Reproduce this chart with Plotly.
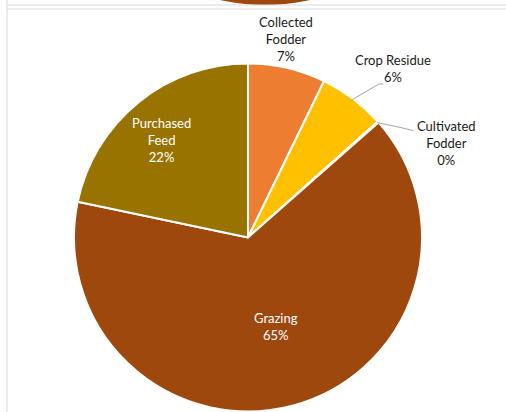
import math
import plotly.graph_objects as go

# ---- data ----
categories = ["Collected Fodder", "Crop Residue", "Cultivated Fodder", "Grazing", "Purchased Feed"]
label_lines = ["Collected<br>Fodder", "Crop Residue", "Cultivated<br>Fodder", "Grazing", "Purchased<br>Feed"]
values = [7.2, 6.2, 0.1, 64.8, 21.7]
colors = ["#ED7D31", "#FFC000", "#A5A5A5", "#9E480E", "#997300"]

# ---- label styling (angle offset in degrees, radius factor, inside?) ----
label_style = [
    dict(dang=-2, rf=1.17, inside=False, leader=False),
    dict(dang=3.5, rf=1.29, inside=False, leader=True),
    dict(dang=16, rf=1.27, inside=False, leader=True),
    dict(dang=-2.5, rf=0.54, inside=True, leader=False),
    dict(dang=-2.5, rf=0.75, inside=True, leader=False),
]

W, H = 506, 412
cx, cy, r = 248, 237.5, 174  # pie centre/radius in pixels

fig = go.Figure(go.Pie(
    labels=categories,
    values=values,
    sort=False,
    direction="clockwise",
    rotation=0,
    marker=dict(colors=colors, line=dict(color="white", width=2)),
    textinfo="none",
    hoverinfo="label+percent",
    domain=dict(x=[(cx - r) / W, (cx + r) / W], y=[1 - (cy + r) / H, 1 - (cy - r) / H]),
    showlegend=False,
))


def px(x):
    return x / W


def py(y):
    return 1 - y / H


total = sum(values)
annotations = []
shapes = []
cum = 0.0
rr = 173
for name, txt, v, st in zip(categories, label_lines, values, label_style):
    mid = (cum + v / 2) / total * 360
    cum += v
    pct = round(v / total * 100)
    a = math.radians(mid + st["dang"])
    lx = cx + st["rf"] * rr * math.sin(a)
    ly = cy - st["rf"] * rr * math.cos(a)
    if st["inside"]:
        font = dict(family="Lato", size=13, color="white")
    else:
        font = dict(family="Lato", size=13, color="#1a1a1a")
    annotations.append(dict(
        x=px(lx), y=py(ly), xref="paper", yref="paper",
        text=f"{txt}<br>{pct}%", showarrow=False, align="center",
        xanchor="center", yanchor="middle", font=font,
    ))
    if st["leader"]:
        am = math.radians(mid)
        ex = cx + rr * 1.0 * math.sin(am)
        ey = cy - rr * 1.0 * math.cos(am)
        if name == "Crop Residue":
            tx, ty = lx - 14, ly + 16
            path = f"M {px(ex)} {py(ey)} L {px(tx)} {py(ty)} L {px(tx + 4)} {py(ty)}"
        else:
            tx, ty = lx - 33, ly - 12
            path = f"M {px(ex)} {py(ey)} L {px(tx - 12)} {py(ty - 3)} L {px(tx)} {py(ty)}"
        shapes.append(dict(type="path", xref="paper", yref="paper", path=path,
                           line=dict(color="#A6A6A6", width=1)))

grey = "#D9D9D9"
shapes += [
    # fragment of the chart above
    dict(type="circle", xref="paper", yref="paper",
         x0=px(265 - 205), x1=px(265 + 205), y0=py(5), y1=py(-405),
         fillcolor="#9E480E", line=dict(width=0), layer="below"),
    dict(type="line", xref="paper", yref="paper", x0=px(7), x1=1, y0=py(5), y1=py(5),
         line=dict(color=grey, width=1)),
    dict(type="line", xref="paper", yref="paper", x0=px(7), x1=1, y0=py(9), y1=py(9),
         line=dict(color=grey, width=1)),
    dict(type="line", xref="paper", yref="paper", x0=px(7), x1=px(7), y0=0, y1=1,
         line=dict(color=grey, width=1)),
]

fig.update_layout(
    width=W, height=H,
    margin=dict(l=0, r=0, t=0, b=0),
    paper_bgcolor="white", plot_bgcolor="white",
    shapes=shapes,
    annotations=annotations,
    font=dict(family="Lato", size=12),
)

fig.write_html("out.html")
